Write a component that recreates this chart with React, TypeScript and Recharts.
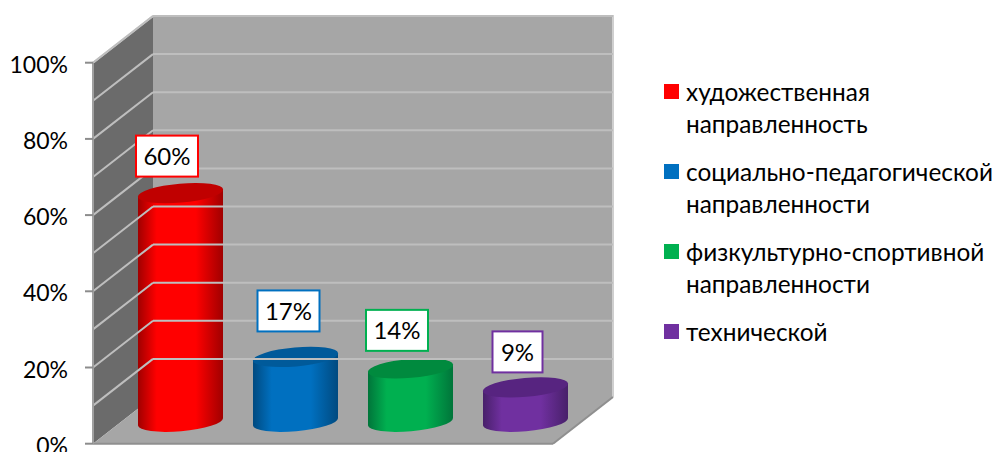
import { BarChart, Bar, XAxis, YAxis, Legend, LabelList, ReferenceArea, ReferenceLine } from 'recharts'

const CATEGORIES = [
  'художественная\nнаправленность',
  'социально-педагогической\nнаправленности',
  'физкультурно-спортивной\nнаправленности',
  'технической',
]
const VALUES = [60, 17, 14, 9]
const Y_TICKS = [0, 20, 40, 60, 80, 100]
const GRID_VALUES = [10, 20, 30, 40, 50, 60, 70, 80, 90, 100]

const BASE_COLORS = ['#ff0000', '#0070c0', '#00b050', '#7030a0']
const EDGE_COLORS = ['#a00000', '#004a80', '#00753a', '#48206a']
const TOP_COLORS = ['#c00000', '#005a9a', '#008a3e', '#572480']

const FONT = 'Lato, "Open Sans", sans-serif'

// depth of the fake 3D box
const DEPTH_X = 60
const DEPTH_Y = 46.7
const BAR_SHIFT_X = 30
const BAR_SHIFT_Y = 22
const TILT = 5

// label boxes were moved by hand in the original
const LABEL_DX = [16.5, 23, 16.5, 22]
const LABEL_DY = [59, 68, 60, 57.5]

const chartData = CATEGORIES.map((name, i) => ({ name, value: VALUES[i], index: i }))

function Walls({ x, y, width, height }: any) {
  const bx = x + DEPTH_X
  const by = y - DEPTH_Y
  const bottom = y + height
  return (
    <g>
      <polygon points={`${bx},${by} ${bx + width},${by} ${bx + width},${by + height} ${bx},${by + height}`} fill="#a6a6a6" />
      <polygon points={`${x},${y} ${bx},${by} ${bx},${by + height} ${x},${bottom}`} fill="#6b6b6b" />
      <polygon points={`${x},${bottom} ${bx},${by + height} ${bx + width},${by + height} ${x + width},${bottom}`} fill="#a6a6a6" />
      <polyline points={`${x},${y} ${bx},${by} ${bx + width},${by} ${bx + width},${by + height}`} fill="none" stroke="#cfcfcf" strokeWidth={2} />
      <line x1={x + width} y1={bottom} x2={bx + width} y2={by + height} stroke="#8f8f8f" strokeWidth={2} />
      <line x1={x} y1={bottom} x2={x + width} y2={bottom} stroke="#8f8f8f" strokeWidth={2} />
    </g>
  )
}

function GridSeg({ x1, y1, x2 }: any) {
  const bx = x1 + DEPTH_X
  const by = y1 - DEPTH_Y
  const right = x2 + DEPTH_X
  return (
    <g stroke="#bebebe" strokeWidth={2} fill="none">
      <line x1={x1} y1={y1} x2={bx} y2={by} />
      <line x1={bx} y1={by} x2={right} y2={by} />
    </g>
  )
}

function Cylinder({ x, y, width, height, payload }: any) {
  const i = payload.index
  const cx = x + width / 2 + BAR_SHIFT_X
  const topY = y - BAR_SHIFT_Y
  const botY = y + height - BAR_SHIFT_Y
  const rx = width / 2
  const ry = 9.5
  const dy = rx * Math.sin((TILT * Math.PI) / 180)
  const body =
    `M${cx - rx},${topY + dy} L${cx - rx},${botY + dy} ` +
    `A${rx},${ry} ${-TILT} 0 0 ${cx + rx},${botY - dy} ` +
    `L${cx + rx},${topY - dy} Z`
  return (
    <g>
      <path d={body} fill={`url(#cyl${i})`} />
      <ellipse cx={cx} cy={topY} rx={rx + 0.3} ry={ry} fill={TOP_COLORS[i]} transform={`rotate(${-TILT} ${cx} ${topY})`} />
    </g>
  )
}

function BoxLabel({ x, y, width, value, index }: any) {
  const w = value >= 10 ? 62 : 50
  const h = 41
  const cx = x + width / 2 + LABEL_DX[index]
  const cy = y - LABEL_DY[index]
  return (
    <g>
      <rect x={cx - w / 2} y={cy - h / 2} width={w} height={h} fill="#fff" stroke={BASE_COLORS[index]} strokeWidth={2} />
      <text x={cx} y={cy + 9} textAnchor="middle" fontSize={24} fontFamily={FONT} fill="#000">{value}%</text>
    </g>
  )
}

function LegendBox() {
  return (
    <div style={{ fontFamily: FONT, fontSize: 24.4, lineHeight: '32px', color: '#000' }}>
      {CATEGORIES.map((c, i) => (
        <div key={i} style={{ position: 'relative', paddingLeft: 22, marginBottom: 16, whiteSpace: 'pre-line' }}>
          <span style={{ position: 'absolute', left: 0, top: 8, width: 15, height: 15, background: BASE_COLORS[i] }} />
          {c}
        </div>
      ))}
    </div>
  )
}

export default function App() {
  return (
    <div style={{ position: 'absolute', left: 0, top: 0, width: 998, height: 452, overflow: 'hidden', background: '#fff' }}>
      <BarChart
        width={998}
        height={452}
        data={chartData}
        margin={{ top: 62.7, right: 445, bottom: 8.3, left: 0 }}
      >
        <defs>
          {BASE_COLORS.map((c, i) => (
            <linearGradient key={i} id={`cyl${i}`} x1="0" y1="0" x2="1" y2="0">
              <stop offset="0" stopColor={EDGE_COLORS[i]} />
              <stop offset="0.22" stopColor={c} />
              <stop offset="0.68" stopColor={c} />
              <stop offset="1" stopColor={EDGE_COLORS[i]} />
            </linearGradient>
          ))}
        </defs>
        <XAxis dataKey="name" hide />
        <YAxis
          width={93}
          domain={[0, 100]}
          ticks={Y_TICKS}
          interval={0}
          tickFormatter={(v: number) => `${v}%`}
          tick={{ fill: '#000', fontSize: 23, fontFamily: FONT, dy: 2 }}
          tickSize={8}
          tickMargin={17}
          tickLine={{ stroke: '#8c8c8c', strokeWidth: 2 }}
          axisLine={{ stroke: '#a0a0a0', strokeWidth: 2 }}
        />
        <ReferenceArea y1={0} y2={100} ifOverflow="visible" shape={(p: any) => <Walls {...p} />} />
        {GRID_VALUES.map(v => (
          <ReferenceLine key={v} y={v} ifOverflow="visible" shape={(p: any) => <GridSeg {...p} />} />
        ))}
        <Legend
          layout="vertical"
          align="center"
          verticalAlign="middle"
          content={() => <LegendBox />}
          wrapperStyle={{ left: 664, top: 76, width: 334, bottom: 'auto', right: 'auto' }}
        />
        <Bar dataKey="value" barSize={85} shape={(p: any) => <Cylinder {...p} />} isAnimationActive={false}>
          <LabelList dataKey="value" content={(p: any) => <BoxLabel {...p} />} />
        </Bar>
      </BarChart>
    </div>
  )
}
